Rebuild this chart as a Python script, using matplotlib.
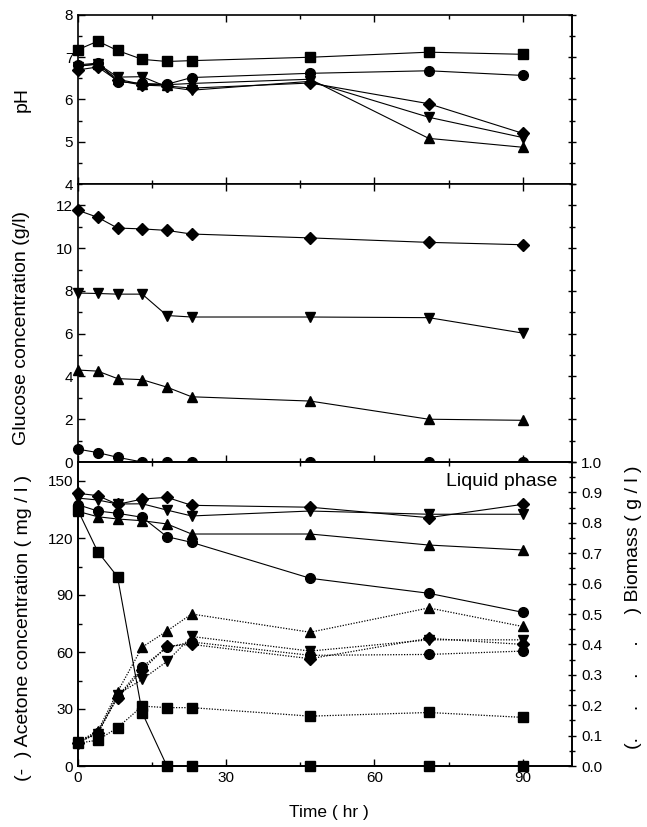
import matplotlib
matplotlib.use("Agg")
import matplotlib.pyplot as plt
from matplotlib.ticker import MultipleLocator

plt.rcParams['font.family'] = ['Liberation Sans', 'DejaVu Sans']

# ---------------- data ----------------
t = [0, 4, 8, 13, 18, 23, 47, 71, 90]

ph_sq = [7.18, 7.38, 7.16, 6.95, 6.90, 6.92, 7.00, 7.12, 7.07]
ph_ci = [6.82, 6.86, 6.42, 6.38, 6.36, 6.52, 6.62, 6.68, 6.57]
ph_up = [6.80, 6.83, 6.48, 6.36, 6.35, 6.38, 6.48, 5.08, 4.87]
ph_dn = [6.78, 6.85, 6.53, 6.54, 6.30, 6.22, 6.43, 5.58, 5.10]
ph_di = [6.70, 6.77, 6.45, 6.34, 6.32, 6.27, 6.39, 5.90, 5.20]

gl_di = [11.77, 11.44, 10.94, 10.90, 10.83, 10.66, 10.48, 10.27, 10.16]
gl_dn = [7.90, 7.88, 7.85, 7.85, 6.85, 6.78, 6.78, 6.75, 6.03]
gl_up = [4.30, 4.25, 3.90, 3.85, 3.50, 3.05, 2.85, 2.00, 1.95]
gl_ci = [0.60, 0.44, 0.22, 0.0, 0.0, 0.0, 0.0, 0.0, 0.0]

ac_sq = [134.5, 112.8, 99.6, 28.0, 0, 0, 0, 0, 0]
ac_ci = [137.5, 134.2, 133.0, 130.9, 120.7, 117.7, 98.8, 90.9, 80.9]
ac_up = [134.0, 131.2, 130.0, 129.1, 127.4, 122.1, 122.1, 116.3, 113.7]
ac_dn = [141.0, 140.0, 137.9, 138.0, 134.7, 131.6, 134.2, 132.5, 132.5]
ac_di = [143.5, 142.3, 137.7, 140.5, 141.4, 137.2, 136.2, 130.7, 137.7]

bm_sq = [0.075, 0.085, 0.126, 0.197, 0.192, 0.192, 0.164, 0.176, 0.160]
bm_ci = [0.080, 0.110, 0.227, 0.326, 0.390, 0.408, 0.364, 0.367, 0.378]
bm_up = [0.080, 0.115, 0.244, 0.391, 0.444, 0.500, 0.440, 0.520, 0.459]
bm_dn = [0.080, 0.105, 0.235, 0.285, 0.344, 0.426, 0.378, 0.415, 0.415]
bm_di = [0.075, 0.110, 0.225, 0.315, 0.394, 0.400, 0.353, 0.420, 0.400]

# ---------------- figure ----------------
W, H = 647, 827
fig = plt.figure(figsize=(W / 100, H / 100), dpi=100)

def box(top, bottom, left=78, right=572):
    return [left / W, 1 - bottom / H, (right - left) / W, (bottom - top) / H]

ax1 = fig.add_axes(box(15, 184))
ax2 = fig.add_axes(box(184, 462))
ax3 = fig.add_axes(box(462, 766))
ax4 = ax3.twinx()

mk = dict(color='black', lw=0.8, clip_on=False)
sq = dict(marker='s', ms=6.5)
ci = dict(marker='o', ms=7)
up = dict(marker='^', ms=7.5)
dn = dict(marker='v', ms=7.5)
di = dict(marker='D', ms=6.5)

# pH
ax1.plot(t, ph_sq, **sq, **mk)
ax1.plot(t, ph_ci, **ci, **mk)
ax1.plot(t, ph_up, **up, **mk)
ax1.plot(t, ph_dn, **dn, **mk)
ax1.plot(t, ph_di, **di, **mk)
ax1.set_ylim(4, 8)
ax1.yaxis.set_major_locator(MultipleLocator(1))
ax1.yaxis.set_minor_locator(MultipleLocator(0.5))

# glucose
ax2.plot(t, gl_di, **di, **mk)
ax2.plot(t, gl_dn, **dn, **mk)
ax2.plot(t, gl_up, **up, **mk)
ax2.plot(t, gl_ci, **ci, **mk)
ax2.set_ylim(0, 13)
ax2.yaxis.set_major_locator(MultipleLocator(2))
ax2.yaxis.set_minor_locator(MultipleLocator(1))

# acetone (solid)
ax3.plot(t, ac_sq, **sq, **mk)
ax3.plot(t, ac_ci, **ci, **mk)
ax3.plot(t, ac_up, **up, **mk)
ax3.plot(t, ac_dn, **dn, **mk)
ax3.plot(t, ac_di, **di, **mk)
ax3.set_ylim(0, 160)
ax3.yaxis.set_major_locator(MultipleLocator(30))
ax3.yaxis.set_minor_locator(MultipleLocator(15))

# biomass (dotted)
dot = dict(color='black', lw=0.9, ls=(0, (1, 1.2)), clip_on=False)
ax4.plot(t, bm_sq, **sq, **dot)
ax4.plot(t, bm_ci, **ci, **dot)
ax4.plot(t, bm_up, **up, **dot)
ax4.plot(t, bm_dn, **dn, **dot)
ax4.plot(t, bm_di, **di, **dot)
ax4.set_ylim(0, 1.0)
ax4.yaxis.set_major_locator(MultipleLocator(0.1))
ax4.yaxis.set_minor_locator(MultipleLocator(0.05))
ax4.yaxis.set_major_formatter(plt.FormatStrFormatter('%.1f'))

for ax in (ax1, ax2, ax3):
    ax.set_xlim(0, 100)
    ax.xaxis.set_major_locator(MultipleLocator(30))
    ax.xaxis.set_minor_locator(MultipleLocator(15))
    for s in ax.spines.values():
        s.set_linewidth(1.2)
    ax.tick_params(which='both', direction='in', top=True, bottom=True,
                   left=True, right=False, labelsize=11, width=1.0)
    ax.tick_params(which='major', length=5)
    ax.tick_params(which='minor', length=3)

for ax in (ax1, ax2):
    ax.tick_params(labelbottom=False)
    sec = ax.secondary_yaxis('right')
    sec.yaxis.set_major_locator(MultipleLocator(1 if ax is ax1 else 2))
    sec.yaxis.set_minor_locator(MultipleLocator(0.5 if ax is ax1 else 1))
    sec.tick_params(which='both', direction='inout', labelright=False, width=1.0)
    sec.tick_params(which='major', length=6)
    sec.tick_params(which='minor', length=4)
    sec.spines['right'].set_linewidth(1.2)

ax3.tick_params(top=False)
ax4.tick_params(which='both', direction='inout', labelsize=11, width=1.0)
ax4.tick_params(which='major', length=6)
ax4.tick_params(which='minor', length=4)
for s in ax4.spines.values():
    s.set_linewidth(1.2)

ax3.text(97, 150, 'Liquid phase', fontsize=14, ha='right', va='center')

LF = 14
fig.text(22 / W, 1 - 100 / H, 'pH', rotation=90, ha='center', va='center', fontsize=LF)
fig.text(22 / W, 1 - 328 / H, 'Glucose concentration (g/l)', rotation=90,
         ha='center', va='center', fontsize=LF)
fig.text(24 / W, 1 - 628 / H, '(-  ) Acetone concentration ( mg / l )', rotation=90,
         ha='center', va='center', fontsize=LF)
fig.text(633 / W, 1 - 607 / H, '(.     .     .     .     ) Biomass ( g / l )', rotation=90,
         ha='center', va='center', fontsize=LF)
fig.text(329 / W, 1 - 813 / H, 'Time ( hr )', ha='center', va='center', fontsize=12.5)

fig.savefig('out.png', dpi=100)
